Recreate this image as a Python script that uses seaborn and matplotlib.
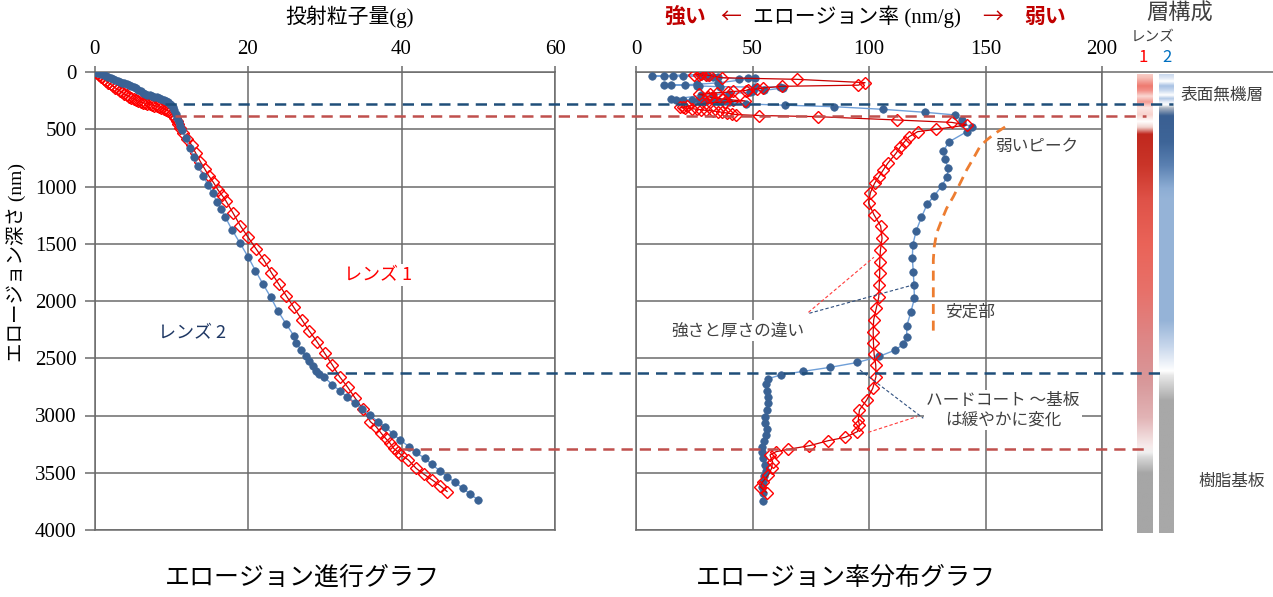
import numpy as np
import matplotlib
matplotlib.use("Agg")
import matplotlib.pyplot as plt
import seaborn as sns
from matplotlib import transforms
from matplotlib.lines import Line2D
from matplotlib.colors import to_rgb

# ---------------- data ----------------
mass_ticks = [0, 20, 40, 60]
rate_ticks = [0, 50, 100, 150, 200]
depth_ticks = [0, 500, 1000, 1500, 2000, 2500, 3000, 3500, 4000]

# Left chart: cumulative projected particle mass (g) vs erosion depth (nm)
lens1_mass = [0.0, 0.3, 0.6, 0.9, 1.2, 1.5, 1.8, 2.1, 2.4, 2.7,
              3.0, 3.3, 3.6, 3.9, 4.2, 4.5, 4.8, 5.1, 5.4, 5.7,
              6.0, 6.3, 6.6, 6.9, 7.2, 7.5, 7.8, 8.1, 8.4, 8.7,
              9.0, 9.3, 9.6, 9.9, 10.1, 10.3, 10.5, 10.7, 10.9, 11.1,
              11.56, 12.1, 12.65, 13.2, 13.8, 14.35, 14.9, 15.5, 16.1, 16.6,
              17.11, 18.07, 19.02, 20.02, 21.1, 22.06, 23.05, 24.0, 25.0, 25.96,
              27.04, 27.95, 28.99, 30.0, 30.99, 31.94, 33.0, 33.98, 34.98, 35.94,
              36.7, 37.37, 37.93, 38.45, 38.97, 39.5, 39.97, 40.9, 41.9, 42.88,
              44.0, 45.05, 45.96]
lens1_depth = [0, 12, 28, 42, 58, 75, 92, 108, 122, 138,
               152, 165, 178, 192, 205, 215, 226, 236, 245, 254,
               262, 268, 273, 278, 283, 288, 293, 299, 306, 314,
               322, 330, 340, 352, 365, 380, 400, 425, 455, 490,
               535, 585, 638, 710, 783, 845, 908, 965, 1031, 1075,
               1124, 1234, 1345, 1444, 1549, 1642, 1753, 1852, 1956, 2055,
               2166, 2259, 2355, 2457, 2559, 2661, 2754, 2850, 2946, 3054,
               3098, 3156, 3200, 3237, 3287, 3316, 3345, 3389, 3461, 3511,
               3563, 3613, 3665]

lens2_mass = [0.0, 0.3, 0.6, 0.9, 1.2, 1.5, 1.8, 2.1, 2.4, 2.7,
              3.0, 3.3, 3.6, 3.9, 4.2, 4.5, 4.8, 5.1, 5.4, 5.7,
              6.0, 6.3, 6.6, 6.9, 7.2, 7.5, 7.8, 8.1, 8.4, 8.7,
              9.0, 9.3, 9.6, 9.8, 10.0, 10.2, 10.4, 10.6, 10.8, 11.0,
              11.2, 11.35,
              11.9, 12.43, 12.95, 13.5, 14.16, 14.8, 15.38, 15.98, 16.5, 17.0,
              17.94, 18.97, 20.0, 20.97, 21.97, 22.97, 23.92, 25.0, 26.0, 26.3,
              26.96, 27.5, 28.0, 28.5, 28.9, 29.3, 29.86, 31.0, 31.94, 32.9,
              33.98, 34.9, 35.9, 36.93, 37.9, 38.9, 39.84, 40.96, 41.9, 43.0,
              43.96, 44.96, 45.96, 46.95, 47.99, 48.95, 50.0]
lens2_depth = [0, 5, 12, 20, 28, 36, 45, 55, 63, 72,
               80, 87, 94, 100, 106, 112, 120, 130, 142, 155,
               168, 180, 190, 198, 205, 211, 216, 221, 226, 233,
               242, 253, 265, 278, 292, 310, 335, 365, 400, 440,
               475, 506,
               579, 667, 739, 821, 908, 987, 1060, 1133, 1198, 1263,
               1380, 1496, 1613, 1735, 1854, 1968, 2090, 2204, 2306, 2370,
               2428, 2477, 2527, 2568, 2609, 2637, 2661, 2731, 2783, 2836,
               2888, 2946, 2998, 3054, 3098, 3162, 3214, 3272, 3322, 3374,
               3426, 3482, 3534, 3583, 3636, 3686, 3738]

# Right chart: erosion rate (nm/g) vs depth (nm)
lens1_rate = [28, 25, 27, 30, 31.5, 36.8, 69, 98.3, 95.4, 62.5,
              54.6, 51.8, 48, 47, 41.8, 39.6, 34.6, 31.8, 27,
              31, 32.5, 36.8, 41.8, 46.8, 38, 30,
              22, 20, 19, 21, 24, 26, 28, 30, 33, 35, 37, 39, 41, 43,
              53, 78, 111.9, 135.5, 141.9, 128.8, 120.9, 117.2, 115.3, 113.5,
              111.6, 108, 106.1, 104.3, 102.4, 100.6, 99.8, 102.1, 105, 105.6,
              104.9, 104.6, 104.6, 104.4, 104.2, 103.1, 102, 101.8, 101.9, 102.2,
              102.9, 103, 101.6, 99, 95.9, 95.4, 95.9, 95, 89.7, 82.5,
              74.4, 65.4, 60.1, 57.5, 58.6, 58.2, 56.8, 54.4, 53.2, 56.1]
lens1_rdepth = [15, 22, 26, 28, 30, 50, 64, 93, 115, 125,
                140, 148, 155, 162, 170, 176, 182, 188, 195,
                215, 225, 235, 245, 252, 262, 272,
                300, 305, 310, 315, 320, 325, 330, 335, 340, 345, 352, 358, 365, 372,
                380, 390, 419, 440, 463, 501, 521, 565, 608, 652,
                710, 798, 856, 914, 972, 1054, 1143, 1245, 1345, 1453,
                1555, 1657, 1758, 1860, 1966, 2064, 2166, 2268, 2364, 2466,
                2559, 2661, 2763, 2865, 2952, 3039, 3083, 3141, 3191, 3220,
                3264, 3295, 3316, 3345, 3403, 3461, 3520, 3578, 3622, 3674]

lens2_rate = [30, 7, 12, 16, 20, 28, 31, 33, 35, 44, 48, 51,
              35, 26, 12, 15, 21, 26, 27, 36, 51, 62, 63,
              55, 50, 49, 40, 33, 28,
              15, 17, 20, 24, 27, 30, 33, 35, 38, 40,
              47, 64, 85, 106, 124, 137, 140, 140, 144, 142,
              134.5, 131.9, 132.6, 134.1, 133.4, 131.2, 127.9, 125.0, 122.5, 120.2,
              118.8, 118.6, 119.0, 119.3, 119.5, 117.9, 116.2, 116.2, 114.8, 111.3,
              104.5, 95.0, 83.4, 71.5, 62.1, 56.8, 55.8, 56.1, 56.8, 56.8,
              56.1, 55.4, 55.4, 56.1, 55.8, 55.1, 54.2, 54.0, 54.6, 55.4,
              55.7, 55.0, 54.4, 54.2, 54.6, 54.6]
lens2_rdepth = [20, 35, 35, 36, 36, 38, 40, 42, 45, 62, 50, 55,
                95, 108, 114, 114, 116, 118, 122, 128, 132, 130, 140,
                160, 170, 178, 188, 198, 205,
                240, 242, 244, 246, 248, 250, 252, 254, 256, 258,
                279, 290, 303, 326, 352, 375, 420, 448, 477, 521,
                608, 687, 763, 841, 920, 996, 1083, 1153, 1269, 1390,
                1511, 1627, 1744, 1860, 1977, 2100, 2220, 2312, 2376, 2428,
                2483, 2537, 2579, 2615, 2646, 2678, 2725, 2783, 2836, 2894,
                2952, 3010, 3063, 3121, 3170, 3220, 3273, 3316, 3374, 3432,
                3482, 3528, 3578, 3627, 3680, 3745]

# "weak peak" guide curve
peak_rate = [158.4, 154.1, 150.5, 147.6, 144.8, 141.9, 139.1, 136.2, 133.3, 131.2, 129.0, 128.0, 127.6, 127.6]
peak_depth = [480, 536, 594, 652, 754, 856, 972, 1089, 1191, 1293, 1409, 1526, 1642, 2312]

# layer boundaries (depth, nm)
lens2_top_boundary = 277
lens1_top_boundary = 382
lens2_bottom_boundary = 2626
lens1_bottom_boundary = 3293

# layer structure colour bands (depth stops)
lens1_band_depth = [0, 40, 110, 150, 200, 250, 300, 360, 420, 470, 530, 800, 1100, 1500,
                    1900, 2300, 2700, 3000, 3250, 3300, 3340, 3480, 4000]
lens1_band_color = ["#f9d0ca", "#f6bdb5", "#ee7a70", "#f29088", "#fad8d3", "#f39b93", "#fde7e4",
                    "#f8d3ce", "#ffffff", "#f1d2ce", "#c0281e", "#ca3529", "#df5248", "#ea6459",
                    "#e7716a", "#de8686", "#d8999b", "#e2b4b6", "#f7ecec", "#f0f0f0", "#d9d9d9",
                    "#a6a6a6", "#a6a6a6"]
lens2_band_depth = [0, 40, 70, 110, 150, 190, 220, 250, 275, 300, 370, 600, 800, 1000, 1100,
                    2150, 2380, 2590, 2630, 2850, 4000]
lens2_band_color = ["#c3d4eb", "#dfe8f5", "#ffffff", "#a7c1e3", "#c9d9ef", "#ffffff", "#b3c9e7",
                    "#e8eef8", "#ffffff", "#b0b8c4", "#3a5f92", "#3e6598", "#5a80b1", "#8dadd4",
                    "#96b4d8", "#95b3d7", "#c8d7ec", "#ffffff", "#e8e8e8", "#a8a8a8", "#a8a8a8"]

# ---------------- style ----------------
sns.set_theme(style="white")
plt.rcParams["font.family"] = ["Liberation Serif", "Noto Sans CJK JP"]
SANS = ["Noto Sans CJK JP", "DejaVu Sans"]

BLUE = "#3a6294"
BLUE_LINE = "#6f9fd8"
RED = "#ff0000"
RED_LINE = "#c80000"
GRID = "#6b6b6b"
DARK_BLUE_DASH = "#1f4e79"
RED_DASH = "#c0504d"
TXT = "#404040"

W, H = 1273, 597
fig = plt.figure(figsize=(W / 100, H / 100), dpi=100)


def fx(p):
    return p / W


def fy(p):
    return 1 - p / H


TOP, BOT = 72, 530
ax1 = fig.add_axes([fx(94.5), fy(BOT), (555 - 94.5) / W, (BOT - TOP) / H])
ax2 = fig.add_axes([fx(636), fy(BOT), (1102 - 636) / W, (BOT - TOP) / H])

for ax, xmax, xt in [(ax1, 60, mass_ticks), (ax2, 200, rate_ticks)]:
    ax.set_xlim(0, xmax)
    ax.set_ylim(4000, 0)
    ax.set_xticks(xt)
    ax.set_yticks(depth_ticks)
    ax.xaxis.tick_top()
    ax.set_axisbelow(True)
    ax.grid(True, color=GRID, lw=1.1)
    for s in ax.spines.values():
        s.set_visible(True)
        s.set_color(GRID)
        s.set_linewidth(1.1)
    ax.tick_params(axis="x", top=True, bottom=False, labeltop=True, labelbottom=False,
                   length=4, width=1.1, color=GRID, pad=5, labelsize=15, labelcolor="black")
ax1.tick_params(axis="y", left=True, length=7, width=1.1, color=GRID, pad=6,
                labelsize=15, labelcolor="black")
ax2.tick_params(axis="y", left=False, labelleft=False)

# ---------------- left chart ----------------
sns.lineplot(x=lens1_mass, y=lens1_depth, ax=ax1, sort=False, estimator=None,
             color=RED_LINE, lw=0.9, marker="D", markersize=6.5,
             markerfacecolor="none", markeredgecolor=RED, markeredgewidth=1.0, zorder=3)
sns.lineplot(x=lens2_mass, y=lens2_depth, ax=ax1, sort=False, estimator=None,
             color=BLUE_LINE, lw=1.0, marker="o", markersize=5.4,
             markerfacecolor=BLUE, markeredgecolor=BLUE, markeredgewidth=0.5, zorder=4)

# ---------------- right chart ----------------
sns.lineplot(x=lens2_rate, y=lens2_rdepth, ax=ax2, sort=False, estimator=None,
             color=BLUE_LINE, lw=1.0, marker="o", markersize=5.4,
             markerfacecolor=BLUE, markeredgecolor=BLUE, markeredgewidth=0.5, zorder=3)
sns.lineplot(x=lens1_rate, y=lens1_rdepth, ax=ax2, sort=False, estimator=None,
             color=RED_LINE, lw=0.9, marker="D", markersize=6.5,
             markerfacecolor="none", markeredgecolor=RED, markeredgewidth=1.0, zorder=4)
sns.lineplot(x=peak_rate, y=peak_depth, ax=ax2, sort=False, estimator=None,
             color="#ed7d31", lw=2.0, linestyle=(0, (3.6, 2.4)), zorder=3)

for a in (ax1, ax2):
    a.set_xlabel("")
    a.set_ylabel("")

# leader lines
lead = dict(lw=0.8, linestyle=(0, (3, 2)), zorder=5)
ax2.plot([74.0, 102.1], [2099, 1618], color="#ff3b3b", **lead)
ax2.plot([74.4, 118.9], [2107, 1860], color="#2f4f7f", **lead)
ax2.plot([96.1, 123.3], [2603, 3024], color="#2f4f7f", **lead)
ax2.plot([99.7, 120.5], [3147, 3010], color="#ff3b3b", **lead)

# ---------------- layer bars ----------------
def band_image(depths, colors):
    d = np.linspace(0, 4000, 1200)
    rgb = np.array([to_rgb(c) for c in colors])
    img = np.stack([np.interp(d, depths, rgb[:, i]) for i in range(3)], axis=1)
    return img[:, None, :]


for x0, wpx, dep, col in [(1137, 16, lens1_band_depth, lens1_band_color),
                          (1159, 15, lens2_band_depth, lens2_band_color)]:
    axb = fig.add_axes([fx(x0), fy(533), wpx / W, (533 - 74) / H])
    axb.imshow(band_image(dep, col), aspect="auto", extent=[0, 1, 4000, 0], interpolation="bilinear")
    axb.set_axis_off()

# top line extension across the layer column
fig.add_artist(Line2D([fx(1102), 1.0], [fy(TOP), fy(TOP)], transform=fig.transFigure,
                      color=GRID, lw=1.1))

# ---------------- boundary dashed lines ----------------
bt = transforms.blended_transform_factory(fig.transFigure, ax1.transData)
for d, x_start, x_end, c in [(lens2_top_boundary, 165, 1173, DARK_BLUE_DASH),
                             (lens1_top_boundary, 175, 1146, RED_DASH),
                             (lens2_bottom_boundary, 327, 1160, DARK_BLUE_DASH),
                             (lens1_bottom_boundary, 402, 1145, RED_DASH)]:
    fig.add_artist(Line2D([fx(x_start), fx(x_end)], [d, d], transform=bt, color=c,
                          lw=1.8, linestyle=(0, (4.5, 2.8)), zorder=6))

# ---------------- texts ----------------
fig.text(fx(350), fy(17), "投射粒子量(g)", ha="center", va="center", fontsize=15, color="black")
fig.text(fx(16), fy(263), "エロージョン深さ (nm)", ha="center", va="center", rotation=90,
         fontsize=14, color="black")

fig.text(fx(685), fy(16.5), "強い", ha="center", va="center", fontsize=15, color="#c00000",
         fontweight="bold", family=SANS)
fig.text(fx(731), fy(16.5), "←", ha="center", va="center", fontsize=15, color="#c00000", family=SANS)
fig.text(fx(857), fy(16.5), "エロージョン率 (nm/g)", ha="center", va="center", fontsize=15, color="black")
fig.text(fx(993), fy(16.5), "→", ha="center", va="center", fontsize=15, color="#c00000", family=SANS)
fig.text(fx(1045), fy(16.5), "弱い", ha="center", va="center", fontsize=15, color="#c00000",
         fontweight="bold", family=SANS)

fig.text(fx(1180), fy(13), "層構成", ha="center", va="center", fontsize=16, color=TXT, family=SANS)
fig.text(fx(1153), fy(37), "レンズ", ha="center", va="center", fontsize=10.5, color=TXT, family=SANS)
fig.text(fx(1143), fy(58), "1", ha="center", va="center", fontsize=12, color="#ff0000", family=SANS)
fig.text(fx(1166.5), fy(58), "2", ha="center", va="center", fontsize=12, color="#0070c0", family=SANS)
fig.text(fx(1181), fy(95), "表面無機層", ha="left", va="center", fontsize=12, color=TXT, family=SANS)
fig.text(fx(1265), fy(481), "樹脂基板", ha="right", va="center", fontsize=12, color=TXT, family=SANS)

box = dict(facecolor="white", edgecolor="none", pad=1.5)
ax1.text(37.0, 1773, "レンズ 1", ha="center", va="center", fontsize=13, color="#ff0000",
         family=SANS, bbox=box, zorder=6)
ax1.text(12.75, 2280, "レンズ 2", ha="center", va="center", fontsize=13, color="#1f3864",
         family=SANS, bbox=box, zorder=6)

ax2.text(154, 646, "弱いピーク", ha="left", va="center", fontsize=12, color=TXT, family=SANS, zorder=6)
ax2.text(132.6, 2096, "安定部", ha="left", va="center", fontsize=12, color=TXT, family=SANS, zorder=6)
ax2.text(43.8, 2262, "強さと厚さの違い", ha="center", va="center", fontsize=12, color=TXT,
         family=SANS, bbox=box, zorder=6)
ax2.text(157.5, 2952, "ハードコート ～基板\nは緩やかに変化", ha="center", va="center", fontsize=12,
         color=TXT, family=SANS, bbox=box, zorder=6, linespacing=1.15)

fig.text(fx(302), fy(578), "エロージョン進行グラフ", ha="center", va="center", fontsize=18,
         color="black", family=SANS)
fig.text(fx(846), fy(578), "エロージョン率分布グラフ", ha="center", va="center", fontsize=18,
         color="black", family=SANS)

fig.savefig("out.png", dpi=100, facecolor="white")
